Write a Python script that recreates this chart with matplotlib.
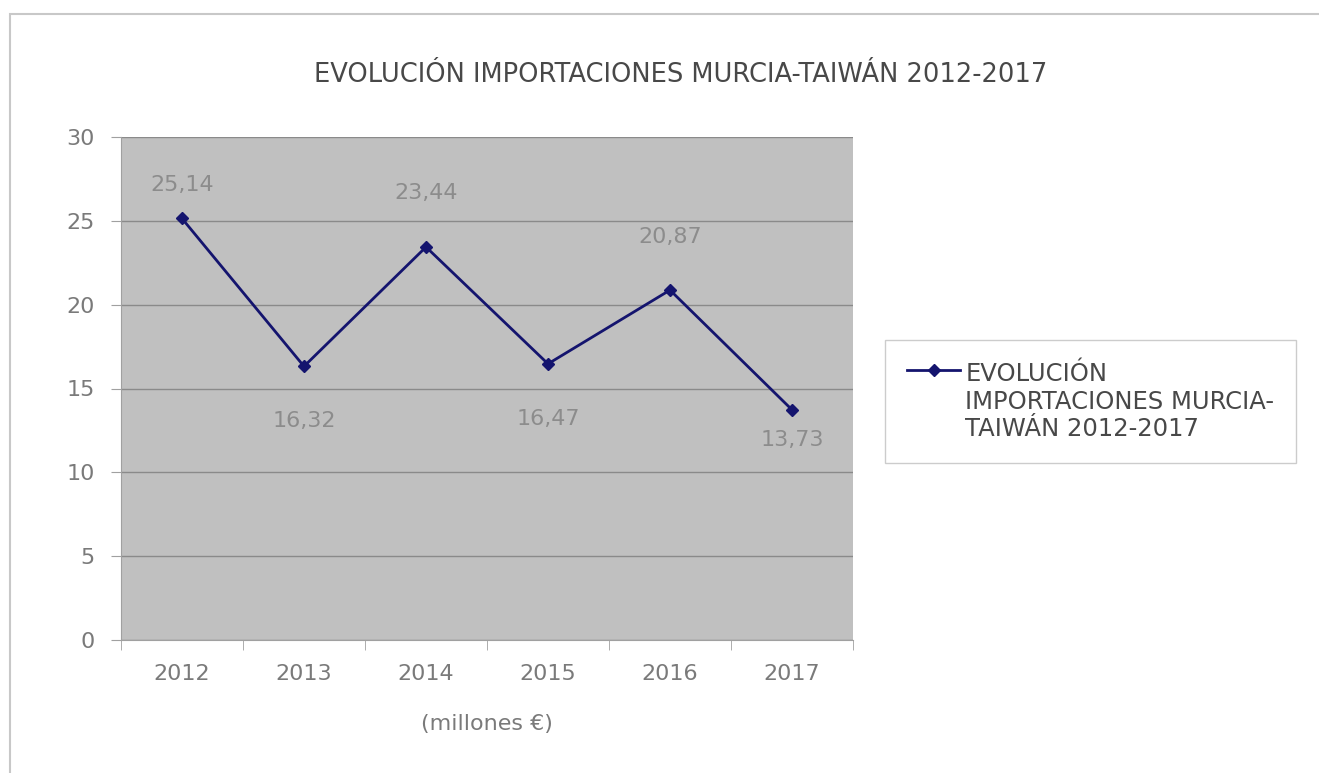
import matplotlib.pyplot as plt
from matplotlib.patches import Rectangle

years = ['2012', '2013', '2014', '2015', '2016', '2017']
imports = [25.14, 16.32, 23.44, 16.47, 20.87, 13.73]
labels = ['25,14', '16,32', '23,44', '16,47', '20,87', '13,73']
series_name = 'EVOLUCIÓN\nIMPORTACIONES MURCIA-\nTAIWÁN 2012-2017'
title = 'EVOLUCIÓN IMPORTACIONES MURCIA-TAIWÁN 2012-2017'

# label offsets in points (up / down)
offsets = [24, -39, 39, -40, 38, -22]

plt.rcParams['font.family'] = ['DejaVu Sans']

fig = plt.figure(figsize=(13.19, 7.73), dpi=100)
fig.patches.append(Rectangle((10 / 1319, -0.1), 1.2, 1 - 14 / 773 + 0.1,
                             transform=fig.transFigure, fill=False,
                             edgecolor='#c8c8c8', linewidth=1.5))

ax = fig.add_axes([121 / 1319, 1 - 640 / 773, 732 / 1319, 503 / 773])
ax.set_facecolor('#c0c0c0')
x = range(len(years))
ax.plot(x, imports, color='#14146e', linewidth=2, marker='D', markersize=6,
        label=series_name)
for xi, v, lab, off in zip(x, imports, labels, offsets):
    ax.annotate(lab, (xi, v), xytext=(0, off), textcoords='offset points',
                ha='center', va='center', fontsize=16, color='#8c8c8c')

ax.set_xlim(-0.5, 5.5)
ax.set_ylim(0, 30)
ax.set_yticks(range(0, 31, 5))
ax.set_xticks(x)
ax.set_xticklabels(years)
ax.set_xticks([i - 0.5 for i in range(7)], minor=True)
ax.tick_params(axis='x', which='major', length=0, pad=17, labelsize=16, labelcolor='#7a7a7a')
ax.tick_params(axis='x', which='minor', length=7, color='#a0a0a0')
ax.tick_params(axis='y', length=7, color='#a0a0a0', pad=12, labelsize=16, labelcolor='#7a7a7a')
ax.grid(axis='y', color='#8a8a8a', linewidth=1)
ax.set_axisbelow(True)
for s in ['top', 'right']:
    ax.spines[s].set_visible(False)
ax.spines['left'].set_color('#a0a0a0')
ax.spines['bottom'].set_color('#a0a0a0')

ax.set_xlabel('(millones €)', fontsize=16, color='#7a7a7a', labelpad=22)
fig.text(681 / 1319, 1 - 75 / 773, title, ha='center', va='center',
         fontsize=18.5, color='#484848')

leg = ax.legend(loc='upper left', bbox_to_anchor=(885 / 1319, 1 - 340 / 773),
                bbox_transform=fig.transFigure, fontsize=17.5, frameon=True,
                fancybox=False, edgecolor='#c0c0c0', handlelength=2.2,
                handletextpad=0.2, borderpad=0.9, borderaxespad=0,
                labelcolor='#484848')
leg.get_frame().set_linewidth(1)
# put the legend handle next to the first line of text
for col in leg._legend_handle_box.get_children():
    for item in col.get_children():
        item.align = 'top'

fig.savefig('out.png', dpi=100)
